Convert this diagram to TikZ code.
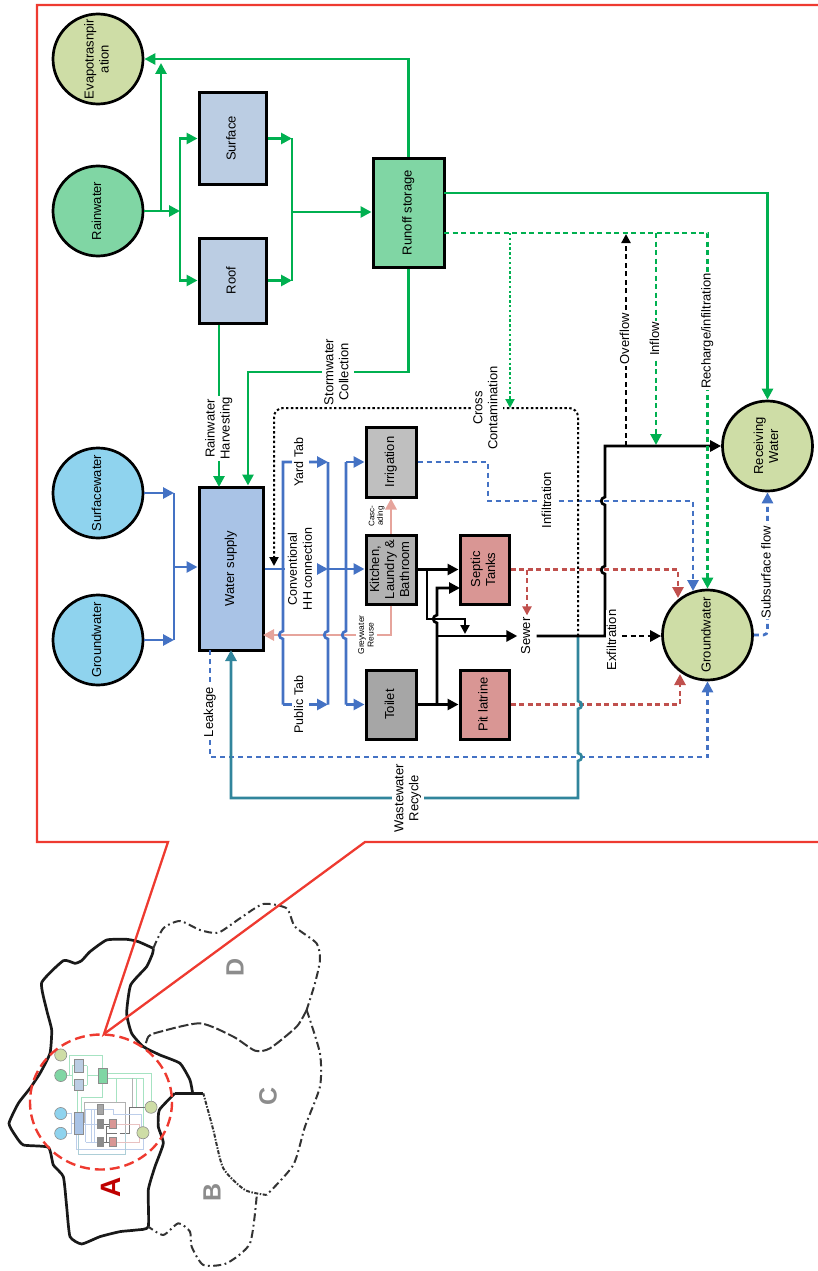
\documentclass[tikz,border=0pt]{standalone}
\usepackage{fontspec}
\setmainfont{Liberation Sans}
\usepackage{graphicx}
\usetikzlibrary{arrows.meta}
\definecolor{frame-red}{HTML}{EE3A30}
\definecolor{flow-green}{HTML}{00B050}
\definecolor{flow-blue}{HTML}{4472C4}
\definecolor{flow-teal}{HTML}{31859C}
\definecolor{flow-pink}{HTML}{E6A49C}
\definecolor{flow-red}{HTML}{C0504D}
\definecolor{sky-bg}{HTML}{8FD3EE}
\definecolor{rain-bg}{HTML}{80D6A4}
\definecolor{sink-bg}{HTML}{CEDDA6}
\definecolor{catch-bg}{HTML}{BBCDE3}
\definecolor{supply-bg}{HTML}{A9C3E6}
\definecolor{septic-bg}{HTML}{D99694}
\newcommand{\vtext}[1]{\rotatebox{90}{\begin{tabular}{@{}c@{}}#1\end{tabular}}}
\newcommand{\hop}[3]{-- (#1,{#2#34}) .. controls ({#1-(#35)},{#2#33}) and ({#1-(#35)},{#2-(#33)}) .. (#1,{#2-(#34)})}
\begin{document}
\begin{tikzpicture}[x=1pt, y=-1pt,
    every node/.style={font=\fontsize{13}{15}\selectfont},
    ball/.style={draw=black, line width=2.7pt, circle, minimum size=90pt, inner sep=0pt},
    stage/.style={draw=black, line width=3pt, inner sep=0pt, align=center},
    lbl/.style={fill=white, text=black, inner sep=1pt},
    arr/.style={-{Triangle[length=11pt,width=11pt]}},
    arrs/.style={-{Triangle[length=9pt,width=9pt]}},
    gline/.style={line width=2.7pt, flow-green},
    gdash/.style={gline, dash pattern=on 5pt off 3.5pt},
    gdots/.style={line width=2pt, flow-green, dash pattern=on 2.4pt off 2.4pt},
    bline/.style={line width=2.7pt, flow-blue},
    bdash/.style={bline, dash pattern=on 5pt off 4pt},
    rdash/.style={line width=2.7pt, flow-red, dash pattern=on 5pt off 3.5pt},
    kline/.style={line width=2.7pt, black},
    kdash/.style={kline, dash pattern=on 5pt off 3.5pt},
    kdots/.style={line width=2pt, black, dash pattern=on 2.4pt off 2.4pt},
    tline/.style={line width=2.7pt, flow-teal},
    pline/.style={line width=2.7pt, flow-pink},
    areaB/.style={line width=2pt, black!80, dash pattern=on 8pt off 3.5pt on 1.8pt off 3.5pt},
    areaL/.style={font=\fontsize{25}{25}\selectfont\bfseries, text=black!45, inner sep=0pt}]
  \useasboundingbox (0,0) rectangle (818,1271);

  \begin{scope}[yshift=-840pt, x=0.3333pt, y=-0.3333pt]
    \draw[line width=2.7pt, black!90, line join=round] plot[smooth, tension=0.3] coordinates {
      (460,325) (415,305) (380,298) (320,300) (270,335) (245,362) (225,370) (190,362)
      (125,428) (140,510) (155,570) (150,640) (120,700) (90,745) (55,790) (27,850)
      (45,885) (70,915) (145,922) (160,975) (190,1010) (200,1100) (210,1190) (245,1212)
      (300,1190) (360,1175) (410,1170) (445,1160) (445,1050) (465,980) (490,910)
      (475,860) (478,810) (525,760)};
    \draw[line width=2.7pt, black!90] (525,760) -- (610,760);
    \draw[line width=2.7pt, black!90] plot[smooth, tension=0.3] coordinates {
      (578,760) (570,720) (540,670) (480,645) (430,620) (395,580) (380,520) (392,435)
      (440,380) (458,340) (460,325)};
    \draw[areaB] plot[smooth, tension=0.4] coordinates {
      (460,325) (490,265) (540,243) (600,270) (655,278) (720,235) (790,192) (860,205)
      (885,260) (950,310) (960,360) (945,430) (920,510)};
    \draw[areaB, dash pattern=on 10pt off 3pt] plot[smooth, tension=0.4] coordinates {
      (920,510) (890,560) (810,625) (765,632) (700,590) (600,550) (470,578) (445,590) (435,620)};
    \draw[areaB] plot[smooth, tension=0.4] coordinates {
      (920,510) (960,640) (960,740) (915,860) (880,975) (800,1065)};
    \draw[areaB, dash pattern=on 4pt off 1.5pt on 1.5pt off 1.5pt] plot[smooth, tension=0.4] coordinates {
      (800,1065) (735,1050) (670,985) (640,870) (610,760)};
    \draw[areaB] plot[smooth, tension=0.4] coordinates {
      (770,1070) (750,1210) (680,1270) (610,1275) (575,1220) (570,1175) (535,1150) (490,1185) (445,1160)};
  \end{scope}

  \begin{scope}[shift={(47.5,1047)}, x=0.135pt, y=-0.135pt, line width=0.6pt]
    \draw[flow-green!35] (143,211) -- (180,211) (161,211) -- (161,60) -- (408,60) -- (408,158)
      (180,138) -- (180,280) (292,138) -- (292,280) (292,212) -- (373,212) (266,138) -- (292,138)
      (266,280) -- (292,280) (180,138) -- (199,138) (180,280) -- (199,280);
    \draw[flow-green!35] (444,193) -- (768,193) -- (768,401) (444,233) -- (707,233) -- (707,591)
      (219,323) -- (219,487) (408,267) -- (408,372) -- (248,372) -- (248,487)
      (510,233) -- (510,408) (656,233) -- (656,445);
    \draw[black!30] (626,233) -- (626,446) (274,566) -- (274,408) -- (578,408) -- (578,636);
    \draw[black!55] (535,636) -- (605,636) -- (605,446) -- (722,446) (416,570) -- (460,570)
      (416,705) -- (460,705) (437,705) -- (437,588) -- (460,588) (437,636) -- (518,636);
    \draw[flow-blue!35] (143,493) -- (174,493) -- (174,640) -- (143,640) (174,567) -- (199,567)
      (263,569) -- (366,569) (283,461) -- (283,705) (328,461) -- (328,705) (346,461) -- (346,705)
      (283,461) -- (366,461) (283,705) -- (366,705) (416,462) -- (488,462) -- (488,501) -- (693,501) -- (693,591)
      (210,650) -- (210,757) -- (707,757) -- (707,680);
    \draw[flow-teal!40] (578,636) -- (578,798) -- (231,798) -- (231,650);
    \draw[flow-red!35] (509,570) -- (678,570) -- (678,598) (509,705) -- (680,705) -- (680,674);
    \foreach \bx/\by/\bc in {98/59/sink-bg, 98/211/rain-bg, 98/493/sky-bg, 98/640/sky-bg, 767/446/sink-bg, 707/635/sink-bg}
      \draw[fill=\bc, draw=black!45] (\bx,\by) circle[radius=45];
    \foreach \xa/\ya/\xb/\yb/\bc in {199/93/266/184/catch-bg, 199/238/266/323/catch-bg, 373/158/444/267/rain-bg,
        199/487/263/650/supply-bg, 366/427/416/497/black!35, 366/535/416/604/black!45, 366/670/416/739/black!45,
        460/535/509/604/septic-bg, 460/670/509/739/septic-bg}
      \draw[fill=\bc, draw=black!45] (\xa,\ya) rectangle (\xb,\yb);
  \end{scope}

  \draw[line width=2.4pt, frame-red, dash pattern=on 10pt off 5pt] (101,1102) ellipse[x radius=71, y radius=67.5];
  \node[areaL, text=red!75!black, font=\fontsize{28}{28}\selectfont\bfseries] (AreaA) at (111,1187) {\rotatebox{90}{A}};
  \node[areaL] (AreaB) at (212,1192) {\rotatebox{90}{B}};
  \node[areaL] (AreaC) at (268,1096) {\rotatebox{90}{C}};
  \node[areaL] (AreaD) at (235,967) {\rotatebox{90}{D}};
  \draw[line width=2.3pt, frame-red, line join=miter] (818,5) -- (37,5) -- (37,842) -- (168,842)
    -- (104,1034) -- (365,842) -- (818,842);

  \node[ball, fill=sink-bg] (Evap) at (98,59) {\vtext{Evapotrasnpir\\ation}};
  \node[ball, fill=rain-bg] (Rain) at (98,211) {\vtext{Rainwater}};
  \node[ball, fill=sky-bg] (SurfW) at (98,493) {\vtext{Surfacewater}};
  \node[ball, fill=sky-bg] (GrndW) at (98,640) {\vtext{Groundwater}};
  \node[ball, fill=sink-bg] (Recv) at (767.5,446) {\vtext{Receiving\\Water}};
  \node[ball, fill=sink-bg] (Gw) at (707.5,635) {\vtext{Groundwater}};
  \node[stage, fill=catch-bg, minimum width=67pt, minimum height=91pt] (Surf) at (232.5,138.5) {\vtext{Surface}};
  \node[stage, fill=catch-bg, minimum width=67pt, minimum height=85pt] (Roof) at (232.5,280.5) {\vtext{Roof}};
  \node[stage, fill=rain-bg, minimum width=71pt, minimum height=109pt] (Run) at (408.5,212.5) {\vtext{Runoff storage}};
  \node[stage, fill=supply-bg, minimum width=64pt, minimum height=163pt] (WS) at (231,568.5) {\vtext{Water supply}};
  \node[stage, fill=black!25, minimum width=50pt, minimum height=70pt] (Irr) at (391,462) {\vtext{Irrigation}};
  \node[stage, fill=black!30, minimum width=50pt, minimum height=69pt] (Kit) at (391,569.5) {\vtext{Kitchen,\\Laundry \&\\Bathroom}};
  \node[stage, fill=black!35, minimum width=50pt, minimum height=69pt] (Toil) at (391,704.5) {\vtext{Toilet}};
  \node[stage, fill=septic-bg, minimum width=49pt, minimum height=69pt] (Sept) at (484.5,569.5) {\vtext{Septic\\Tanks}};
  \node[stage, fill=septic-bg, minimum width=49pt, minimum height=69pt] (Pit) at (484.5,704.5) {\vtext{Pit latrine}};
  \node[inner sep=2pt] (Sewer) at (527,636) {\vtext{Sewer}};

  \coordinate (RainBus) at (180,211);
  \coordinate (EvapTap) at (161,211);
  \coordinate (EvapTip) at (161,63);
  \coordinate (CollectBus) at (292,212);
  \coordinate (HarvestIn) at (219,487);
  \coordinate (StormTop) at (248,372);
  \coordinate (RunOut) at (444,193);
  \coordinate (RunDash) at (444,233);
  \coordinate (ContTap) at (510,233);
  \coordinate (ContIn) at (510,408);
  \coordinate (OverTap) at (626,446);
  \coordinate (OverTop) at (626,234);
  \coordinate (InflowTop) at (656,233);
  \coordinate (InflowIn) at (656,445);
  \coordinate (Junc) at (578,636);
  \coordinate (SewerTurn) at (605,636);
  \coordinate (RecvTurn) at (605,446);
  \coordinate (ContTop) at (274,408);
  \coordinate (CrossIn) at (274,566);
  \coordinate (WwCorner) at (578,798);
  \coordinate (WwBack) at (231,798);
  \coordinate (WwIn) at (231,650);
  \coordinate (LeakOut) at (210,650);
  \coordinate (LeakBot) at (210,757);
  \coordinate (BusSrc) at (174,567);
  \coordinate (BusL) at (283,569);
  \coordinate (BusM) at (328,569);
  \coordinate (BusR) at (346,569);
  \coordinate (ReuseIn) at (263,635);
  \coordinate (KitTap) at (427,569.5);
  \coordinate (KitBus) at (427,619);
  \coordinate (SewerDrop) at (465,634);
  \coordinate (ToilTap) at (437,704.5);
  \coordinate (SewerTap) at (437,636);
  \coordinate (SeptIn) at (460,588);
  \coordinate (SepGw) at (678,598);
  \coordinate (PitGw) at (680,674);
  \coordinate (IrrTurn) at (488,501);
  \coordinate (InfGw) at (693,591);

  \draw[gline, arr] (Rain.east) -- (RainBus);
  \draw[gline, arr] (EvapTap) -- (EvapTip);
  \draw[gline, arr] (RainBus) |- (Surf.west);
  \draw[gline, arr] (RainBus) |- (Roof.west);
  \draw[gline, arr] (Surf.east) -- (Surf.east -| CollectBus);
  \draw[gline, arr] (Roof.east) -- (Roof.east -| CollectBus);
  \draw[gline] (CollectBus |- Surf.east) -- (CollectBus |- Roof.east);
  \draw[gline, arr] (CollectBus) -- (CollectBus -| Run.west);
  \draw[gline, arr] (Run.north) |- (Evap.east);
  \draw[gline, arr] (Run.south) -- (Run.south |- StormTop)
    -- node[lbl, pos=0.44] {\vtext{Stormwater\\Collection}} (StormTop) -- (StormTop |- WS.north);
  \draw[gline, arr] (HarvestIn |- Roof.south) -- node[lbl, pos=0.64] {\vtext{Rainwater\\Harvesting}} (HarvestIn);
  \draw[gline, arr] (RunOut) -| (Recv.north);
  \draw[gdots, arrs] (ContTap) -- (ContIn);
  \draw[gdash, arr] (InflowTop) -- node[lbl, pos=0.5] {\vtext{Inflow}} (InflowIn);

  \draw[bline, arr] (SurfW.east) -- (SurfW.east -| BusSrc);
  \draw[bline, arr] (GrndW.east) -- (GrndW.east -| BusSrc);
  \draw[bline] (BusSrc |- SurfW.east) -- (BusSrc |- GrndW.east);
  \draw[bline, arr] (BusSrc) -- (BusSrc -| WS.west);

  \draw[pline, arr] (Kit.south) |- node[lbl, pos=0.594, font=\fontsize{8.5}{9.5}\selectfont] {\vtext{Greywater\\Reuse}} (ReuseIn);
  \draw[pline, arr] (Kit.north) -- (Irr.south);
  \node[font=\fontsize{8}{8.5}\selectfont, inner sep=0pt] (CascLbl) at (377,516) {\vtext{Casc-\\ading}};

  \begin{scope}[every node/.append style={font=\fontsize{12.5}{15}\selectfont}]
    \draw[bline, arr] (WS.east |- BusL) -- node[lbl, pos=0.58] {\vtext{Conventional\\HH connection}} (BusM);
    \draw[bline, arr] (BusM) -- (BusM -| Kit.west);
    \draw[bline, arr] (BusL |- Toil.west) \hop{283}{635}{+} -- (BusL |- Irr.west)
      -- node[lbl, pos=0.38] {\vtext{Yard Tab}} (BusM |- Irr.west);
    \draw[bline, arr] (BusL |- Toil.west) -- node[lbl, pos=0.38] {\vtext{Public Tab}} (BusM |- Toil.west);
    \draw[bline] (BusM |- Toil.west) \hop{328}{635}{+} -- (BusM |- Irr.west);
    \draw[bline] (BusR |- Toil.west) \hop{346}{635}{+} -- (BusR |- Irr.west);
    \draw[bline, arr] (BusR |- Irr.west) -- (Irr.west);
    \draw[bline, arr] (BusR |- Toil.west) -- (Toil.west);
  \end{scope}

  \draw[kline, arr] (Kit.east) -- (Sept.west);
  \draw[kline, arr] (Toil.east) -- (Pit.west);
  \draw[kline, arrs] (KitTap) -- (KitBus) -| (SewerDrop);
  \draw[kline, arr] (ToilTap) \hop{437}{619}{+} |- (SeptIn);
  \draw[kline, arr] (SewerTap) -- (Sewer.west);

  \draw[rdash, arr] (Sept.east) -| (SepGw);
  \draw[rdash, arrs] (Sept.east -| Sewer.north) -- (Sewer.north);
  \draw[rdash, arr] (Pit.east) -| (PitGw);

  \draw[bdash, arr] (Irr.east) -| (IrrTurn) -| (InfGw);
  \draw[bdash, arr] (LeakOut) -- node[lbl, pos=0.58] {\vtext{Leakage}} (LeakBot) -| (Gw.south);
  \draw[bdash, arr, rounded corners=4pt] (Gw.east) -| node[lbl, pos=0.72] {\vtext{Subsurface flow}} (Recv.south);

  \draw[kdots, arrs, rounded corners=9pt] (Junc) -- (Junc |- ContTop)
    -- node[lbl, pos=0.30] {\vtext{Cross\\Contamination}} (ContTop) -- (CrossIn);
  \draw[tline, arr] (Junc) \hop{578}{705}{-} \hop{578}{757}{-} -- (WwCorner)
    -- node[lbl, pos=0.49] {\vtext{Wastewater\\Recycle}} (WwBack) -- (WwIn);
  \draw[kdash, arrs] (OverTap) -- node[lbl, pos=0.505] {\vtext{Overflow}} (OverTop);
  \draw[kline, arr] (Sewer.east) -- (SewerTurn) \hop{605}{570}{+} \hop{605}{501}{+} -- (RecvTurn) -- (RecvTurn -| Recv.west);
  \draw[gdash, arr] (RunDash) -| node[lbl, pos=0.638] {\vtext{Recharge/infiltration}} (Gw.north);
  \draw[kdash, arr] (SewerTurn) -- (SewerTurn -| Gw.west);
  \node[lbl, inner sep=0pt] (ExfilLbl) at (613,640) {\vtext{Exfiltration}};
  \node[lbl, inner sep=0pt] (InfilLbl) at (548,500) {\vtext{Infiltration}};
\end{tikzpicture}
\end{document}
